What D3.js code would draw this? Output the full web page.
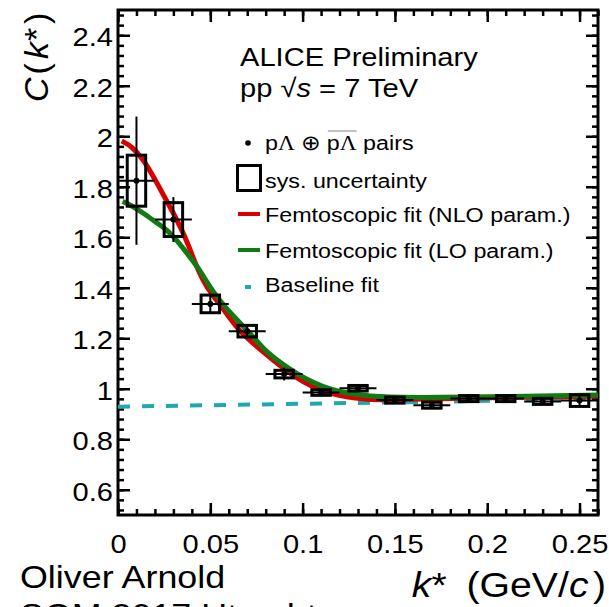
<!DOCTYPE html>
<html>
<head>
<meta charset="utf-8">
<script src="https://cdn.jsdelivr.net/npm/d3@7"></script>
<style>
  body { margin: 0; background: #fff; }
  text { font-family: "Liberation Sans", Arial, Helvetica, sans-serif; fill: #000; white-space: pre; }
</style>
</head>
<body>
<div id="chart"></div>
<script>
// measured correlation function, bin centres in k* (GeV/c)
const kCenters = [0.01, 0.03, 0.05, 0.07, 0.09, 0.11, 0.13, 0.15, 0.17, 0.19, 0.21, 0.23, 0.25]
const cValues  = [1.824, 1.670, 1.336, 1.228, 1.058, 0.985, 1.002, 0.955, 0.935, 0.961, 0.961, 0.950, 0.953]
const statErr  = [0.254, 0.089, 0.036, 0.028, 0.025, 0.014, 0.014, 0.012, 0.012, 0.012, 0.012, 0.012, 0.020]
const sysErr   = [0.101, 0.067, 0.035, 0.023, 0.015, 0.011, 0.011, 0.012, 0.012, 0.012, 0.012, 0.012, 0.023]
const kBinHalf = 0.01
const kSysHalf = 0.005

// femtoscopic fits
const nloK = [0.002, 0.0074, 0.0137, 0.0191, 0.0245, 0.0300, 0.0345, 0.0381, 0.0417, 0.0460, 0.0509, 0.0562, 0.0650, 0.0751, 0.0968, 0.1148, 0.1365, 0.15, 0.18, 0.21, 0.24, 0.26]
const nloC = [1.981, 1.961, 1.908, 1.841, 1.769, 1.696, 1.630, 1.570, 1.499, 1.428, 1.372, 1.326, 1.233, 1.167, 1.035, 0.975, 0.955, 0.957, 0.961, 0.965, 0.969, 0.971]
const loK  = [0.0025, 0.0065, 0.0137, 0.0210, 0.0264, 0.0318, 0.0372, 0.0444, 0.0516, 0.0625, 0.0751, 0.0787, 0.0968, 0.1148, 0.1365, 0.16, 0.19, 0.22, 0.26]
const loC  = [1.742, 1.729, 1.696, 1.657, 1.630, 1.590, 1.538, 1.471, 1.379, 1.286, 1.193, 1.154, 1.055, 0.992, 0.968, 0.965, 0.967, 0.970, 0.975]
// linear baseline
const baseK = [0, 0.26]
const baseC = [0.929, 0.959]

const xTicks = [0, 0.05, 0.1, 0.15, 0.2, 0.25]
const yTicks = [0.6, 0.8, 1, 1.2, 1.4, 1.6, 1.8, 2, 2.2, 2.4]

const W = 609, H = 607
const margin = { top: 10, right: 11, bottom: 92, left: 118 }
const width = W - margin.left - margin.right
const height = H - margin.top - margin.bottom
const SX = 1.12 // the original picture is a bit stretched horizontally

const RED = "#d80000", GREEN = "#127a12", CYAN = "#1fa8ae"

const x = d3.scaleLinear().domain([0, 0.26]).range([0, width])
const y = d3.scaleLinear().domain([0.5, 2.5]).range([height, 0])

const root = d3.select("#chart").append("svg")
  .attr("width", W)
  .attr("height", H)

const svg = root.append("g")
  .attr("transform", "translate(" + margin.left + "," + margin.top + ")")

function stretchLabels(g) {
  g.selectAll(".tick text").each(function () {
    const t = d3.select(this)
    const tx = +t.attr("x") || 0
    const ty = +t.attr("y") || 0
    t.attr("x", 0).attr("y", 0)
      .attr("transform", "translate(" + tx + "," + ty + ") scale(" + SX + ",1)")
  })
}

function styleAxis(g) {
  g.select(".domain").remove()
  g.selectAll(".tick line").attr("stroke", "#000").attr("stroke-width", 2.5)
  g.selectAll(".tick text").attr("font-size", 26).attr("fill", "#000")
}

const xMinor = d3.range(0, 0.2605, 0.01)
const yMinor = d3.range(0.52, 2.5, 0.04)

// bottom
const gx = svg.append("g").attr("transform", "translate(0," + height + ")")
gx.call(d3.axisBottom(x).tickValues(xTicks).tickSizeInner(-12).tickSizeOuter(0).tickPadding(20).tickFormat(d3.format("~g")))
styleAxis(gx)
stretchLabels(gx)
svg.append("g").attr("transform", "translate(0," + height + ")")
  .call(d3.axisBottom(x).tickValues(xMinor).tickSize(-6).tickFormat(""))
  .call(styleAxis)
// top
svg.append("g").call(d3.axisTop(x).tickValues(xTicks).tickSize(-12).tickFormat("")).call(styleAxis)
svg.append("g").call(d3.axisTop(x).tickValues(xMinor).tickSize(-6).tickFormat("")).call(styleAxis)
// left
const gy = svg.append("g")
gy.call(d3.axisLeft(y).tickValues(yTicks).tickSizeInner(-12).tickSizeOuter(0).tickPadding(5).tickFormat(d3.format("~g")))
styleAxis(gy)
gy.selectAll(".tick text").attr("dy", "0.4em")
stretchLabels(gy)
svg.append("g").call(d3.axisLeft(y).tickValues(yMinor).tickSize(-6).tickFormat("")).call(styleAxis)
// right
svg.append("g").attr("transform", "translate(" + width + ",0)")
  .call(d3.axisRight(y).tickValues(yTicks).tickSize(-12).tickFormat("")).call(styleAxis)
svg.append("g").attr("transform", "translate(" + width + ",0)")
  .call(d3.axisRight(y).tickValues(yMinor).tickSize(-6).tickFormat("")).call(styleAxis)

svg.append("rect")
  .attr("width", width)
  .attr("height", height)
  .attr("fill", "none")
  .attr("stroke", "#000")
  .attr("stroke-width", 3)

// curves
const line = d3.line()
  .curve(d3.curveBasis)
  .x((d) => { return x(d[0]) })
  .y((d) => { return y(d[1]) })

svg.append("path")
  .attr("d", d3.line().x((d) => x(d[0])).y((d) => y(d[1]))(d3.zip(baseK, baseC)))
  .attr("fill", "none")
  .attr("stroke", CYAN)
  .attr("stroke-width", 4)
  .attr("stroke-dasharray", "12 12")

svg.append("path")
  .attr("d", line(d3.zip(nloK, nloC)))
  .attr("fill", "none")
  .attr("stroke", RED)
  .attr("stroke-width", 5)

svg.append("path")
  .attr("d", line(d3.zip(loK, loC)))
  .attr("fill", "none")
  .attr("stroke", GREEN)
  .attr("stroke-width", 5)

// data points
const pts = kCenters.map((k, i) => ({ k: k, c: cValues[i], stat: statErr[i], sys: sysErr[i] }))
const gp = svg.append("g")

gp.selectAll(".sys").data(pts).enter().append("rect")
  .attr("class", "sys")
  .attr("x", (d) => x(d.k - kSysHalf))
  .attr("width", (d) => x(d.k + kSysHalf) - x(d.k - kSysHalf))
  .attr("y", (d) => y(d.c + d.sys))
  .attr("height", (d) => y(d.c - d.sys) - y(d.c + d.sys))
  .attr("fill", "none")
  .attr("stroke", "#000")
  .attr("stroke-width", 3)

gp.selectAll(".xerr").data(pts).enter().append("line")
  .attr("x1", (d) => x(d.k - kBinHalf))
  .attr("x2", (d) => x(d.k + kBinHalf))
  .attr("y1", (d) => y(d.c))
  .attr("y2", (d) => y(d.c))
  .attr("stroke", "#000")
  .attr("stroke-width", 2)

gp.selectAll(".yerr").data(pts).enter().append("line")
  .attr("x1", (d) => x(d.k))
  .attr("x2", (d) => x(d.k))
  .attr("y1", (d) => y(d.c - d.stat))
  .attr("y2", (d) => y(d.c + d.stat))
  .attr("stroke", "#000")
  .attr("stroke-width", 2)

gp.selectAll("circle").data(pts).enter().append("circle")
  .attr("cx", (d) => x(d.k))
  .attr("cy", (d) => y(d.c))
  .attr("r", 3)
  .attr("fill", "#000")

// texts (page coordinates)
function label(px, py, size, anchor) {
  return root.append("text")
    .attr("xml:space", "preserve")
    .attr("transform", "translate(" + px + "," + py + ") scale(" + SX + ",1)")
    .attr("font-size", size)
    .attr("text-anchor", anchor || "start")
}

label(240, 66, 26).text("ALICE Preliminary")
const pp = label(240, 97, 26)
pp.append("tspan").text("pp ")
pp.append("tspan").text("\u221A")
pp.append("tspan").attr("font-style", "italic").text("s")
pp.append("tspan").text(" = 7 TeV")

// legend
const LX = 265, LS = 20.8
// row 1: pΛ ⊕ anti-pΛ pairs
root.append("circle").attr("cx", 248).attr("cy", 143).attr("r", 2.8).attr("fill", "#000")
let cx = LX
function piece(str, serif) {
  const t = label(cx, 150, LS)
  if (serif) {
    t.append("tspan").text("p")
    t.append("tspan").attr("font-family", "Liberation Serif, serif").text("\u039B")
  } else {
    t.text(str)
  }
  const w = t.node().getComputedTextLength() * SX
  const x0 = cx
  cx += w
  return { x0: x0, w: w }
}
piece("", true)
piece(" \u2295 ")
const bar = piece("", true)
piece(" pairs")
root.append("line")
  .attr("x1", bar.x0 + 1).attr("x2", bar.x0 + bar.w)
  .attr("y1", 131).attr("y2", 131)
  .attr("stroke", "#999").attr("stroke-width", 1.2)

// row 2: sys box
root.append("rect").attr("x", 237.5).attr("y", 165.5).attr("width", 23).attr("height", 25)
  .attr("fill", "none").attr("stroke", "#000").attr("stroke-width", 3)
label(LX, 188, LS).text("sys. uncertainty")
// rows 3-5
root.append("line").attr("x1", 238).attr("x2", 260).attr("y1", 214).attr("y2", 214)
  .attr("stroke", RED).attr("stroke-width", 4)
label(LX, 222, LS).text("Femtoscopic fit (NLO param.)")
root.append("line").attr("x1", 238).attr("x2", 260).attr("y1", 250).attr("y2", 250)
  .attr("stroke", GREEN).attr("stroke-width", 4)
label(LX, 258, LS).text("Femtoscopic fit (LO param.)")
root.append("line").attr("x1", 245).attr("x2", 251).attr("y1", 287).attr("y2", 287)
  .attr("stroke", CYAN).attr("stroke-width", 4)
label(LX, 292, LS).text("Baseline fit")

// axis titles
const xt = label(606, 597, 35, "end")
xt.append("tspan").attr("font-style", "italic").text("k")
xt.append("tspan").text("*")
xt.append("tspan").attr("dx", 8).text(" (GeV/")
xt.append("tspan").attr("font-style", "italic").text("c")
xt.append("tspan").attr("dx", 4).text(")")

const yt = root.append("text")
  .attr("transform", "translate(48,102) rotate(-90)")
  .attr("font-size", 34)
yt.append("tspan").attr("font-style", "italic").text("C")
yt.append("tspan").attr("dx", 3).text("(")
yt.append("tspan").attr("dx", 4).attr("font-style", "italic").text("k")
yt.append("tspan").attr("dx", 1).text("*")
yt.append("tspan").attr("dx", 4).text(")")

// author / conference
label(20, 588, 32).text("Oliver Arnold")
label(20, 626, 32).text("SQM 2017 Utrecht")
</script>
</body>
</html>
